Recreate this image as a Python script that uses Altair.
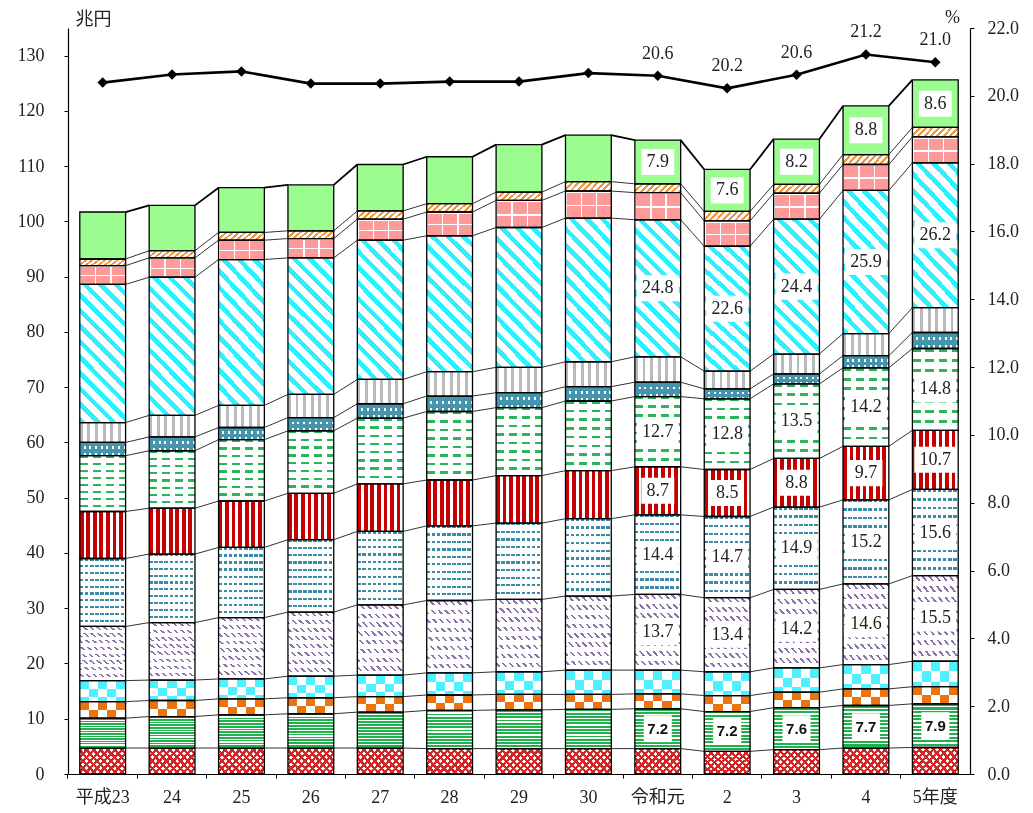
import math
import altair as alt
import pandas as pd

# ---------------- data ----------------
YEARS = ["平成23", "24", "25", "26", "27", "28", "29", "30", "令和元", "2", "3", "4", "5年度"]

C01_CROSS = [4.7, 4.7, 4.7, 4.7, 4.7, 4.6, 4.6, 4.6, 4.6, 4.1, 4.4, 4.7, 4.8]
C02_GREEN = [5.4, 5.7, 6.0, 6.2, 6.5, 6.9, 7.0, 7.1, 7.2, 7.2, 7.6, 7.7, 7.9]
C03_CHECK = [3.0, 2.9, 2.9, 2.9, 2.8, 2.8, 2.8, 2.7, 2.7, 2.9, 2.8, 3.0, 3.1]
C04_BUBBLE = [3.8, 3.7, 3.6, 3.9, 3.9, 4.0, 4.1, 4.4, 4.3, 4.3, 4.4, 4.4, 4.6]
C05_PURPLE = [9.8, 10.4, 11.1, 11.6, 12.7, 13.1, 13.1, 13.4, 13.7, 13.4, 14.2, 14.6, 15.5]
C06_WAVE = [12.3, 12.4, 12.7, 13.1, 13.3, 13.5, 13.8, 14.0, 14.4, 14.7, 14.9, 15.2, 15.6]
C07_REDSTRIPE = [8.5, 8.3, 8.4, 8.4, 8.6, 8.3, 8.6, 8.7, 8.7, 8.5, 8.8, 9.7, 10.7]
C08_DASH = [10.1, 10.4, 11.1, 11.3, 11.9, 12.4, 12.3, 12.6, 12.7, 12.8, 13.5, 14.2, 14.8]
C09_DOT = [2.4, 2.5, 2.2, 2.4, 2.6, 2.8, 2.7, 2.6, 2.6, 1.8, 1.8, 2.2, 2.9]
C10_GRAY = [3.6, 3.9, 4.0, 4.2, 4.4, 4.4, 4.6, 4.5, 4.6, 3.2, 3.6, 4.0, 4.5]
C11_DIAG = [25.0, 25.0, 26.4, 24.7, 25.2, 24.6, 25.3, 26.0, 24.8, 22.6, 24.4, 25.9, 26.2]
C12_PINK = [3.4, 3.5, 3.5, 3.5, 3.8, 4.3, 4.9, 4.9, 4.9, 4.6, 4.7, 4.7, 4.7]
C13_HATCH = [1.2, 1.3, 1.4, 1.4, 1.5, 1.5, 1.5, 1.7, 1.6, 1.7, 1.6, 1.8, 1.7]
C14_LIGHT = [8.5, 8.2, 8.1, 8.3, 8.4, 8.5, 8.6, 8.4, 7.9, 7.6, 8.2, 8.8, 8.6]

RATIO = [20.39, 20.63, 20.72, 20.36, 20.36, 20.42, 20.42, 20.67, 20.59,
         20.22, 20.62, 21.22, 20.99]

CATS = ["c01", "c02", "c03", "c04", "c05", "c06", "c07",
        "c08", "c09", "c10", "c11", "c12", "c13", "c14"]
SERIES = [C01_CROSS, C02_GREEN, C03_CHECK, C04_BUBBLE, C05_PURPLE, C06_WAVE,
          C07_REDSTRIPE, C08_DASH, C09_DOT, C10_GRAY, C11_DIAG, C12_PINK,
          C13_HATCH, C14_LIGHT]

LABEL_YEARS = ["令和元", "2", "3", "4", "5年度"]
LABEL_CATS = ["c02", "c05", "c06", "c07", "c08", "c11", "c14"]
BOLD_CATS = ["c02"]

rows = []
for ci, (cat, vals) in enumerate(zip(CATS, SERIES)):
    for yi, (yr, v) in enumerate(zip(YEARS, vals)):
        rows.append({"year": yr, "yi": yi, "cat": cat, "ci": ci, "value": v,
                     "show": (yr in LABEL_YEARS) and (cat in LABEL_CATS),
                     "bold": cat in BOLD_CATS})
df = pd.DataFrame(rows)
dfr = pd.DataFrame({"year": YEARS, "ratio": RATIO,
                    "show": [y in LABEL_YEARS for y in YEARS]})

# ---------------- styles ----------------
SERIF = "Liberation Serif, Noto Sans CJK JP, serif"
SANS = "Liberation Sans, Arial, sans-serif"
BLACK, WHITE = "#000000", "#ffffff"
BW = 46.0  # bar width in px (approx.)


def stripes(period, frac, x1, y1, x2, y2, on=BLACK, off=WHITE):
    stops = []
    k = 0
    while k * period < 1 - 1e-9:
        a = k * period
        b = min((k + frac) * period, 1.0)
        c = min((k + 1) * period, 1.0)
        stops += [(a, on), (b, on), (b, off), (c, off)]
        k += 1
    return {"gradient": "linear", "x1": x1, "y1": y1, "x2": x2, "y2": y2,
            "stops": [{"offset": round(o, 4), "color": col} for o, col in stops]}


def vlines(n, frac, **kw):
    return stripes(1.0 / n, frac, 0, 0, 1, 0, **kw)


def hlines(n, frac, **kw):
    return stripes(1.0 / n, frac, 0, 0, 0, 1, **kw)


def back(h, period_px, frac, w=BW, **kw):   # "\" lines
    k = (w + h) / (w * w + h * h)
    n = (w + h) / math.sqrt(2) / period_px
    return stripes(1.0 / n, frac, 0, 1, w * k, 1 - h * k, **kw)


def fwd(h, period_px, frac, w=BW, **kw):    # "/" lines
    k = (w + h) / (w * w + h * h)
    n = (w + h) / math.sqrt(2) / period_px
    return stripes(1.0 / n, frac, 0, 0, w * k, h * k, **kw)


PATTERNS = {
    "c01": ([(fwd(25, 5.0, 0.45), None), (back(25, 5.0, 0.45), "multiply")], "#d42626"),
    "c02": ([(hlines(12, 0.58), None)], "#22b14c"),
    "c03": ([(vlines(2.5, 0.5), None), (hlines(1, 0.5), "difference")], "#ea7410"),
    "c04": ([(vlines(2.5, 0.5), None), (hlines(1.25, 0.5), "difference")], "#4ff0ff"),
    "c05": ([(back(66, 4.8, 0.35), None), (hlines(8, 0.5), "lighten")], "#8a74aa"),
    "c06": ([(hlines(10, 0.3), None), (vlines(9, 0.7), "lighten")], "#3c8ca5"),
    "c07": ([(vlines(7, 0.58), None)], "#c40000"),
    "c08": ([(hlines(8, 0.3), None), (vlines(3.5, 0.62), "lighten")], "#2bb45b"),
    "c09": ([(vlines(8, 0.65), None), (hlines(2, 0.6), "multiply")], "#4795ac"),
    "c10": ([(vlines(6, 0.38), None)], "#b9b9b9"),
    "c11": ([(back(138, 11, 0.42), None)], "#2ff0ff"),
    "c12": ([(vlines(3, 0.09, on=WHITE, off=BLACK), None),
             (hlines(2, 0.13, on=WHITE, off=BLACK), "lighten")], "#ff9a9a"),
    "c13": ([(fwd(9, 4.5, 0.45), None)], "#f0963e"),
    "c14": ([], "#9bfc90"),
}

# ---------------- scales / axes ----------------
XSCALE = alt.Scale(type="band", domain=YEARS, paddingInner=0.34, paddingOuter=0.17)
XAXIS = alt.Axis(title=None, labelAngle=0, bandPosition=-0.2576, tickSize=4,
                 labelPadding=10)
YSCALE = alt.Scale(domain=[0, 135], nice=False, zero=True)
YAXIS = alt.Axis(title="兆円", orient="left", values=list(range(0, 131, 10)), format="d",
                 tickSize=4, labelPadding=20,
                 titleAngle=0, titleX=7, titleY=-9, titleAlign="left",
                 titleBaseline="middle")
RSCALE = alt.Scale(domain=[0, 22], nice=False, zero=True)
RAXIS = alt.Axis(title="%", orient="right", values=list(range(0, 23, 2)), format=".1f",
                 tickSize=4, labelPadding=13,
                 titleAngle=0, titleX=-18, titleY=-11, titleAlign="center",
                 titleBaseline="middle")

X = alt.X("year:N", scale=XSCALE, axis=XAXIS)

base = alt.Chart(df).transform_stack(
    stack="value", groupby=["year"],
    sort=[alt.SortField("ci", order="ascending")], as_=["y0", "y1"])

Y0 = alt.Y("y0:Q", scale=YSCALE, axis=YAXIS)
Y1 = alt.Y2("y1")

left_layers = []
for cat in CATS:
    masks, color = PATTERNS[cat]
    sub = base.transform_filter(alt.datum.cat == cat)
    for grad, blend in masks:
        kw = {"fill": grad}
        if blend:
            kw["blend"] = blend
        left_layers.append(sub.mark_bar(**kw).encode(x=X, y=Y0, y2=Y1))
    kw = {"fill": color}
    if masks:
        kw["blend"] = "lighten"
    left_layers.append(sub.mark_bar(**kw).encode(x=X, y=Y0, y2=Y1))

# outlines
left_layers.append(base.mark_bar(fill="white", fillOpacity=0, stroke="black",
                                 strokeWidth=1.3).encode(x=X, y=Y0, y2=Y1))

# connector lines between bars
conn = base.transform_window(
    next_year="lead(year)", next_y1="lead(y1)", groupby=["cat"],
    sort=[alt.SortField("yi", order="ascending")]
).transform_filter("datum.next_year != null")
conn_enc = dict(
    x=alt.X("year:N", scale=XSCALE, axis=XAXIS, bandPosition=1),
    x2=alt.X2("next_year", bandPosition=0),
    y=alt.Y("y1:Q", scale=YSCALE, axis=YAXIS),
    y2=alt.Y2("next_y1"),
)
left_layers.append(conn.transform_filter(alt.datum.cat != CATS[-1])
                   .mark_rule(color="#333333", strokeWidth=1.0).encode(**conn_enc))
left_layers.append(conn.transform_filter(alt.datum.cat == CATS[-1])
                   .mark_rule(color="#000000", strokeWidth=1.8).encode(**conn_enc))

# value labels
lab = base.transform_filter(alt.datum.show).transform_calculate(
    mid="(datum.y0 + datum.y1) / 2", lbl="format(datum.value, '.1f')")
YM = alt.Y("mid:Q", scale=YSCALE, axis=YAXIS)
serif_lab = lab.transform_filter(~alt.datum.bold)
bold_lab = lab.transform_filter(alt.datum.bold)
left_layers.append(serif_lab.transform_filter("length(datum.lbl) >= 4").mark_point(
    shape="M-1,-0.62L1,-0.62L1,0.62L-1,0.62Z", size=42 * 42, filled=True,
    fill="white", opacity=1, strokeWidth=0).encode(x=X, y=YM))
left_layers.append(serif_lab.transform_filter("length(datum.lbl) < 4").mark_point(
    shape="M-1,-0.79L1,-0.79L1,0.79L-1,0.79Z", size=33 * 33, filled=True,
    fill="white", opacity=1, strokeWidth=0).encode(x=X, y=YM))
left_layers.append(bold_lab.mark_point(
    shape="M-1,-0.96L1,-0.96L1,0.96L-1,0.96Z", size=28 * 28, filled=True,
    fill="white", opacity=1, strokeWidth=0).encode(x=X, y=YM))
left_layers.append(serif_lab.mark_text(font=SERIF, fontSize=18, color="#222222",
                                       baseline="middle", align="center")
                   .encode(x=X, y=YM, text="lbl:N"))
left_layers.append(bold_lab.mark_text(font=SANS, fontSize=15, fontWeight="bold",
                                      color="#111111", baseline="middle", align="center")
                   .encode(x=X, y=YM, text="lbl:N"))

left = alt.layer(*left_layers)

# ratio line (right axis)
YR = alt.Y("ratio:Q", scale=RSCALE, axis=RAXIS)
line = alt.Chart(dfr).mark_line(color="black", strokeWidth=2.6).encode(x=X, y=YR)
pts = alt.Chart(dfr).mark_point(shape="diamond", filled=True, color="black",
                                size=110, opacity=1).encode(x=X, y=YR)
rtxt = alt.Chart(dfr).transform_filter(alt.datum.show).mark_text(
    dy=-22, font=SERIF, fontSize=18, color="#222222").encode(
    x=X, y=YR, text=alt.Text("ratio:Q", format=".1f"))
right = alt.layer(line, pts, rtxt)

chart = alt.layer(left, right).resolve_scale(y="independent").properties(
    width=902, height=746,
    padding={"left": 60, "top": 20, "right": 55, "bottom": 31},
    autosize=alt.AutoSizeParams(type="none"),
).configure_view(stroke=None).configure_axis(
    domainColor="black", tickColor="black", labelColor="#222222", titleColor="#222222",
    labelFont=SERIF, titleFont=SERIF, labelFontSize=18, titleFontSize=18,
    titleFontWeight="normal", grid=False, domainWidth=1.2, tickWidth=1,
)

chart.save("out.html", embed_options={"renderer": "svg", "actions": False})
